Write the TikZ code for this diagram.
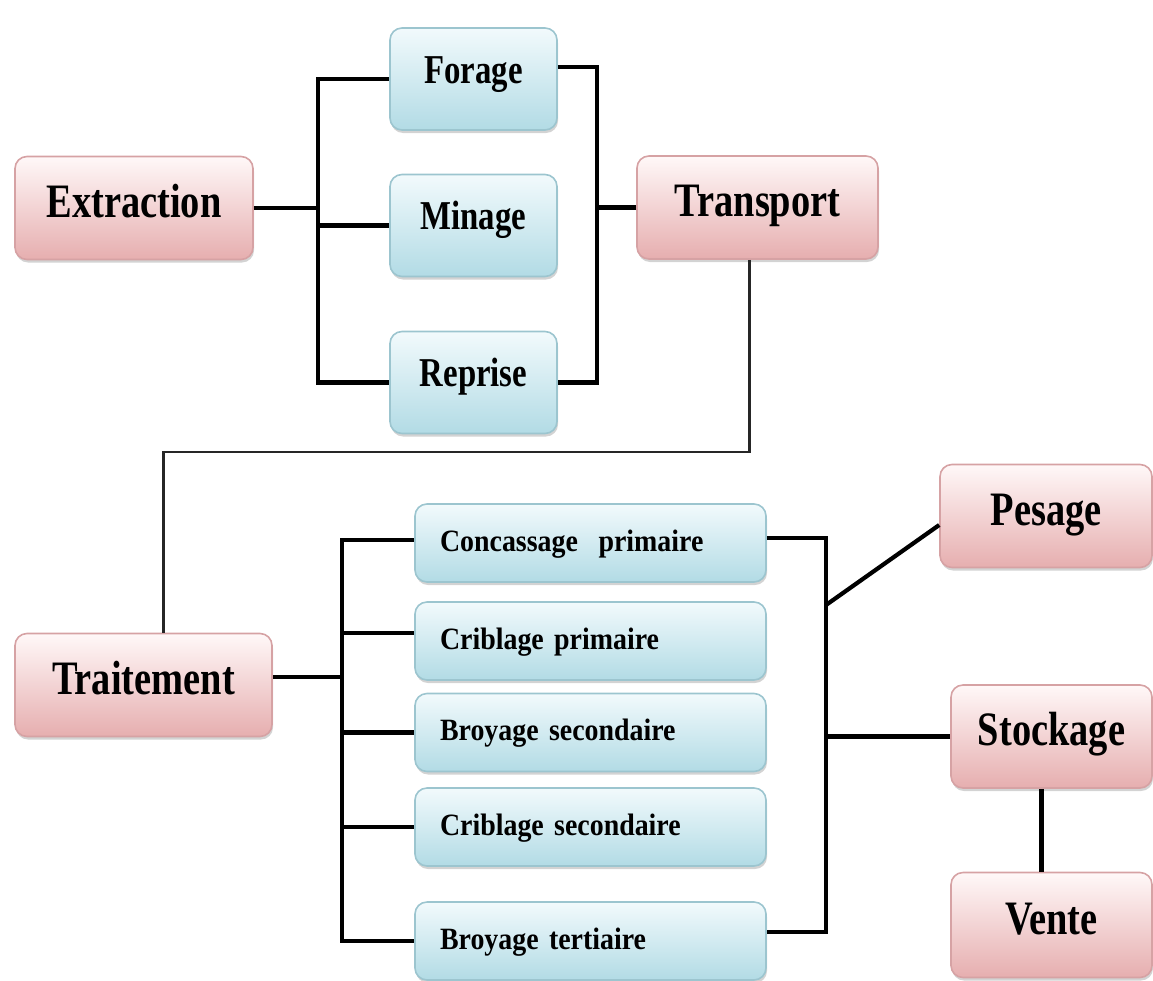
\documentclass[tikz,border=0pt]{standalone}
\usepackage{fontspec}
\setmainfont{Liberation Serif}
\newfontfamily\stagefont[FakeStretch=0.8]{Liberation Serif}
\newfontfamily\opfont[FakeStretch=0.9, WordSpace=0.5]{Liberation Serif}
\usetikzlibrary{calc,shadows}

\definecolor{pinktop}{HTML}{FFF8F8}
\definecolor{pinkmid}{HTML}{F5D8D8}
\definecolor{pinkbot}{HTML}{E6AEAF}
\definecolor{pinkline}{HTML}{D6A2A4}
\definecolor{bluetop}{HTML}{F2FAFC}
\definecolor{bluemid}{HTML}{D3ECF2}
\definecolor{bluebot}{HTML}{B2DBE5}
\definecolor{blueline}{HTML}{9CC5CF}

\tikzset{
  box/.style={rounded corners=12pt, line width=1.6pt, inner sep=0pt,
    drop shadow={shadow xshift=1pt, shadow yshift=-3pt, opacity=0.35, fill=gray}},
  pinkbox/.style={box, draw=pinkline, top color=pinktop, middle color=pinkmid, bottom color=pinkbot},
  bluebox/.style={box, draw=blueline, top color=bluetop, middle color=bluemid, bottom color=bluebot},
  stage/.style={pinkbox, font=\stagefont\bfseries\fontsize{48}{50}\selectfont,
    minimum height=103pt, text height=32pt, text depth=14pt},
  mineop/.style={bluebox, font=\stagefont\bfseries\fontsize{41}{44}\selectfont,
    minimum width=167pt, minimum height=102pt, text height=20pt, text depth=12pt},
  plantop/.style={bluebox, font=\opfont\bfseries\fontsize{31}{34}\selectfont,
    minimum height=78pt, inner xsep=25pt, text width=301pt, align=left,
    text height=22pt, text depth=6pt},
  conn/.style={line width=4.2pt, black},
  thinconn/.style={line width=2.6pt, black!85},
}

\begin{document}
\begin{tikzpicture}[x=1pt, y=-1pt]
  \useasboundingbox (0,0) rectangle (1153,980);

  % extraction stage
  \node[stage, minimum width=238pt] (extraction) at (134,208) {Extraction};
  \node[mineop] (forage) at (473.5,79) {Forage};
  \node[mineop] (minage) at (473.5,225.5) {Minage};
  \node[mineop] (reprise) at (473.5,382.5) {Reprise};
  \node[stage, minimum width=241pt] (transport) at (757.5,207.5) {Transport};

  % processing plant
  \node[stage, minimum width=257pt] (traitement) at (143.5,685) {Traitement};
  \node[plantop] (concassage) at (590.5,543) {Concassage\ \ primaire};
  \node[plantop] (cribprim) at (590.5,641) {Criblage primaire};
  \node[plantop] (broysec) at (590.5,732.5) {Broyage secondaire};
  \node[plantop] (cribsec) at (590.5,827) {Criblage secondaire};
  \node[plantop] (broyter) at (590.5,941) {Broyage tertiaire};

  % outputs
  \node[stage, minimum width=212pt] (pesage) at (1046,516) {Pesage};
  \node[stage, minimum width=201pt] (stockage) at (1051.5,736.5) {Stockage};
  \node[stage, minimum width=201pt, minimum height=105pt] (vente) at (1051.5,925) {Vente};

  % bracket junctions
  \coordinate (bxA) at (318,0);
  \coordinate (bxB) at (597,0);
  \coordinate (bxC) at (342,0);
  \coordinate (bxD) at (826,0);
  \coordinate (turn) at (400,452);
  \coordinate (pesfoot) at (826,605);

  % extraction -> mining operations
  \draw[conn] (extraction.east) -- (extraction.east -| bxA);
  \draw[conn] (forage.west) -| (bxA |- reprise.west) -- (reprise.west);
  \draw[conn] (minage.west) -- (minage.west -| bxA);

  % mining operations -> transport
  \draw[conn] ($(forage.east)+(0,-12)$) -| (bxB |- reprise.east) -- (reprise.east);
  \draw[conn] (transport.west) -- (transport.west -| bxB);

  % transport -> traitement
  \draw[thinconn] ($(transport.south)+(-8,0)$) |- (turn) -| ($(traitement.north)+(20,0)$);

  % traitement -> plant operations
  \draw[conn] ($(traitement.east)+(0,-8)$) -- ($(traitement.east -| bxC)+(0,-8)$);
  \draw[conn] ($(concassage.west)+(0,-3)$) -| (bxC |- broyter.west) -- (broyter.west);
  \draw[conn] ($(cribprim.west)+(0,-8)$) -- ($(cribprim.west -| bxC)+(0,-8)$);
  \draw[conn] (broysec.west) -- (broysec.west -| bxC);
  \draw[conn] (cribsec.west) -- (cribsec.west -| bxC);

  % plant operations -> outputs
  \draw[conn] ($(concassage.east)+(0,-5)$) -| ($(bxD |- broyter.east)+(0,-9)$) -- ($(broyter.east)+(0,-9)$);
  \draw[conn] (pesfoot) -- ($(pesage.west)+(0,9)$);
  \draw[conn] (stockage.west) -- (stockage.west -| bxD);
  \draw[conn] ($(stockage.south)+(-10,0)$) -- ($(vente.north)+(-10,0)$);
\end{tikzpicture}
\end{document}
